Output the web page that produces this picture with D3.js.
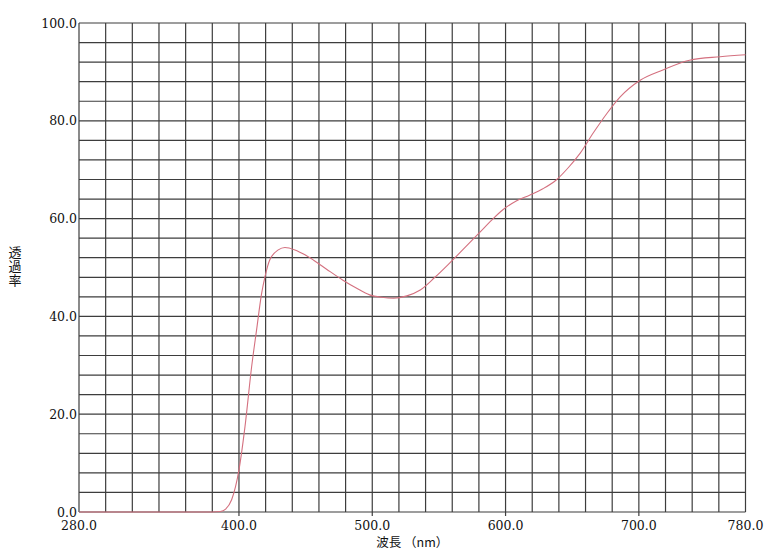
<!DOCTYPE html>
<html>
<head>
<meta charset="utf-8">
<script src="https://cdn.jsdelivr.net/npm/d3@7"></script>
<style>
  html, body { margin: 0; padding: 0; background: #fff; }
  svg { display: block; }
</style>
</head>
<body>
<svg id="chart" width="769" height="553"></svg>
<script>
// ---- data ----
const wavelength = [280, 300, 340, 380, 386, 390, 394.5, 400, 404.5, 409.5, 413.2, 417, 419.5, 423, 429.5, 434.5, 442, 449.5, 456, 466, 478, 488, 498, 507, 516, 526, 536, 547, 558, 570, 581, 590, 598, 608, 618, 628, 638, 647, 656, 666, 676, 686, 701, 718, 738, 761, 780];
const transmittance = [0, 0, 0, 0, 0.1, 0.6, 2.5, 8.6, 17.4, 29.7, 37.2, 44.7, 48.1, 51.5, 53.6, 54.1, 53.6, 52.6, 51.5, 49.6, 47.4, 45.8, 44.4, 43.9, 43.7, 44.2, 45.4, 48.0, 50.9, 54.2, 57.3, 59.8, 61.8, 63.6, 64.8, 66.1, 67.9, 70.4, 73.4, 77.6, 81.5, 84.9, 88.3, 90.4, 92.4, 93.1, 93.5];
const xTickLabels = [280, 400, 500, 600, 700, 780];
const yTickLabels = [0, 20, 40, 60, 80, 100];
const xTitle = "波長 （nm）";
const yTitle = "透過率";

// ---- layout ----
const svg = d3.select("#chart");
const x = d3.scaleLinear().domain([280, 780]).range([79, 745.5]);
const y = d3.scaleLinear().domain([0, 100]).range([512, 23]);

const gridColor = "#3d3d3d";
const numFont = "'DejaVu Serif', 'Liberation Serif', serif";
const cjkFont = "'Noto Sans CJK JP', 'Noto Sans CJK SC', sans-serif";

// grid
svg.append("g").selectAll("line").data(d3.range(280, 781, 20)).join("line")
  .attr("x1", d => x(d)).attr("x2", d => x(d))
  .attr("y1", y(0)).attr("y2", y(100))
  .attr("stroke", gridColor).attr("stroke-width", 1.2);
svg.append("g").selectAll("line").data(d3.range(0, 101, 4)).join("line")
  .attr("x1", x(280)).attr("x2", x(780))
  .attr("y1", d => y(d)).attr("y2", d => y(d))
  .attr("stroke", gridColor).attr("stroke-width", 1.2);

// x tick marks below axis
svg.append("g").selectAll("line").data(xTickLabels.filter(d => d !== 280 && d !== 780)).join("line")
  .attr("x1", d => x(d)).attr("x2", d => x(d))
  .attr("y1", y(0)).attr("y2", y(0) + 4)
  .attr("stroke", gridColor).attr("stroke-width", 1.2);

// x labels
svg.append("g").selectAll("text").data(xTickLabels).join("text")
  .attr("x", d => x(d)).attr("y", 530)
  .attr("text-anchor", "middle")
  .attr("font-family", numFont).attr("font-size", 12.5).attr("fill", "#111")
  .text(d => d.toFixed(1));

// y labels
svg.append("g").selectAll("text").data(yTickLabels).join("text")
  .attr("x", x(280) - 2).attr("y", d => y(d))
  .attr("dy", "0.36em")
  .attr("text-anchor", "end")
  .attr("font-family", numFont).attr("font-size", 12.5).attr("fill", "#111")
  .text(d => d.toFixed(1));

// axis titles
svg.append("text")
  .attr("x", (x(280) + x(780)) / 2).attr("y", 547)
  .attr("text-anchor", "middle")
  .attr("font-family", cjkFont).attr("font-size", 12.5).attr("fill", "#111")
  .text(xTitle);

svg.append("text")
  .attr("x", 15).attr("y", 267)
  .attr("text-anchor", "middle")
  .style("writing-mode", "vertical-rl")
  .style("text-orientation", "upright")
  .attr("letter-spacing", 1)
  .attr("font-family", cjkFont).attr("font-size", 13).attr("fill", "#111")
  .text(yTitle);

// curve
const pts = wavelength.map((w, i) => [w, transmittance[i]]);
svg.append("path")
  .datum(pts)
  .attr("fill", "none")
  .attr("stroke", "#d4707f")
  .attr("stroke-width", 1.1)
  .attr("d", d3.line().x(d => x(d[0])).y(d => y(d[1])).curve(d3.curveMonotoneX));
</script>
</body>
</html>
